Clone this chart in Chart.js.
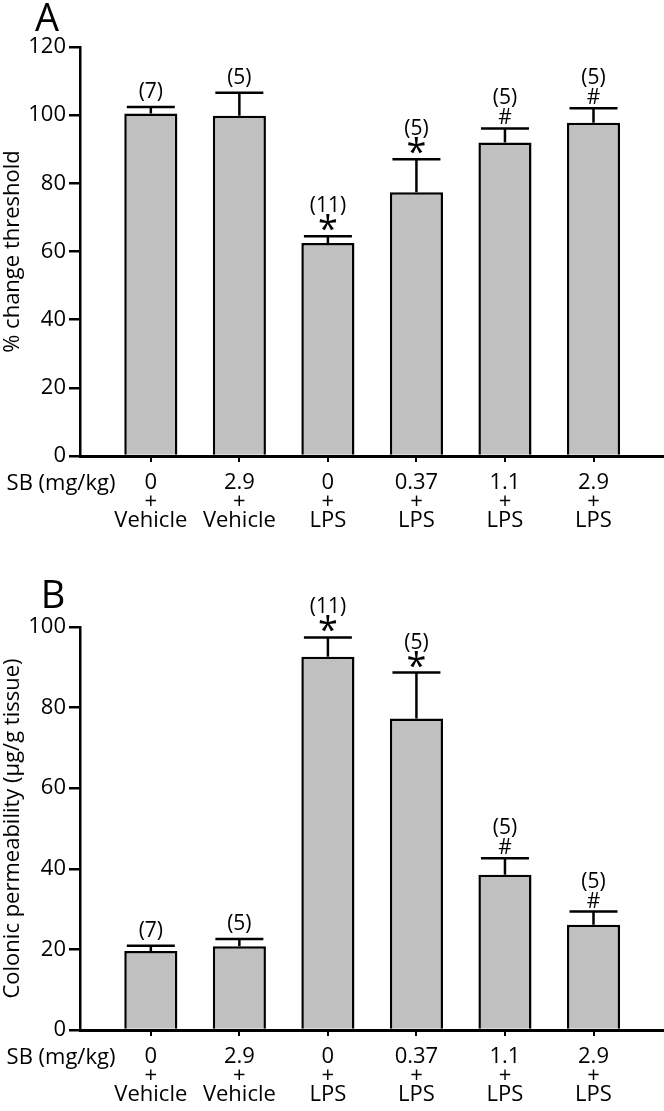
<!DOCTYPE html>
<html>
<head>
<meta charset="utf-8">
<script src="https://cdn.jsdelivr.net/npm/chart.js@4"></script>
<style>
body { margin: 0; background: #fff; }
canvas { display: block; }
</style>
</head>
<body>
<canvas id="chartA" width="664" height="540"></canvas>
<canvas id="chartB" width="664" height="571"></canvas>
<script>
// groups: SB dose + treatment
var categories = [['0', '+', 'Vehicle'], ['2.9', '+', 'Vehicle'], ['0', '+', 'LPS'],
	['0.37', '+', 'LPS'], ['1.1', '+', 'LPS'], ['2.9', '+', 'LPS']];
var groupN = ['(7)', '(5)', '(11)', '(5)', '(5)', '(5)'];

// panel A
var thresholdMeans = [100.5, 99.8, 62.5, 77.4, 92.0, 97.8];
var thresholdSem = [1.9, 6.8, 2.0, 9.7, 4.1, 4.2];
var thresholdMarks = ['', '', '*', '*', '#', '#'];
var thresholdTicks = [0, 20, 40, 60, 80, 100, 120];

// panel B
var permeabilityMeans = [19.6, 20.8, 92.6, 77.3, 38.5, 26.1];
var permeabilitySem = [1.3, 1.8, 4.8, 11.4, 4.1, 3.3];
var permeabilityMarks = ['', '', '*', '*', '#', '#'];
var permeabilityTicks = [0, 20, 40, 60, 80, 100];

var FONT = '"Open Sans"';

function makeChart(id, letter, letterPos, yTitle, means, sem, marks, yTicks, padTop, xHeight) {
	var annotate = {
		id: 'annotate_' + id,
		afterDatasetsDraw: function(chart) {
			var ctx = chart.ctx;
			var ys = chart.scales.y;
			var meta = chart.getDatasetMeta(0);
			ctx.save();
			ctx.strokeStyle = '#000';
			ctx.fillStyle = '#000';
			ctx.lineWidth = 2.5;
			ctx.textAlign = 'center';
			ctx.textBaseline = 'alphabetic';
			means.forEach(function(m, i) {
				var bx = meta.data[i].x;
				var top = ys.getPixelForValue(m);
				var cap = ys.getPixelForValue(m + sem[i]);
				ctx.beginPath();
				ctx.moveTo(bx, top);
				ctx.lineTo(bx, cap);
				ctx.moveTo(bx - 24, cap);
				ctx.lineTo(bx + 24, cap);
				ctx.stroke();
				var nBase = cap - 9;
				if (marks[i] === '*') {
					ctx.font = '36px ' + FONT;
					ctx.fillText('*', bx, cap + 5);
					nBase = cap - 24;
				} else if (marks[i] === '#') {
					ctx.font = '21px ' + FONT;
					ctx.fillText('#', bx, cap - 4);
					nBase = cap - 24;
				}
				ctx.font = '21px ' + FONT;
				ctx.fillText(groupN[i], bx, nBase);
			});
			ctx.restore();
		},
		afterDraw: function(chart) {
			var ctx = chart.ctx;
			ctx.save();
			ctx.fillStyle = '#000';
			ctx.textAlign = 'center';
			ctx.textBaseline = 'alphabetic';
			ctx.font = '38px ' + FONT;
			ctx.fillText(letter, letterPos[0], chart.chartArea.top - letterPos[1]);
			ctx.font = '22px ' + FONT;
			ctx.textBaseline = 'middle';
			ctx.fillText('SB (mg/kg)', 61, chart.chartArea.bottom + 28);
			ctx.restore();
		}
	};

	return new Chart(document.getElementById(id), {
		type: 'bar',
		data: {
			datasets: [{
				data: means.map(function(v, i) { return {x: i, y: v}; }),
				backgroundColor: '#c0c0c0',
				borderColor: '#000',
				borderWidth: 2.5,
				categoryPercentage: 1,
				barPercentage: 0.6
			}]
		},
		options: {
			responsive: false,
			animation: false,
			layout: {padding: {top: padTop, right: 1, bottom: 0, left: 0}},
			plugins: {legend: {display: false}, tooltip: {enabled: false}},
			scales: {
				x: {
					type: 'linear',
					min: -0.8,
					max: 5.785,
					offset: false,
					afterBuildTicks: function(s) { s.ticks = categories.map(function(c, i) { return {value: i}; }); },
					afterFit: function(s) { s.height = xHeight; },
					border: {display: true, color: '#000', width: 3},
					grid: {drawOnChartArea: false, offset: false, tickLength: 6, tickColor: '#000', lineWidth: 2},
					ticks: {
						color: '#000',
						font: {family: FONT, size: 22, lineHeight: 0.87},
						padding: 11,
						maxRotation: 0,
						autoSkip: false,
						callback: function(v) { return categories[v]; }
					}
				},
				y: {
					min: 0,
					max: yTicks[yTicks.length - 1],
					afterBuildTicks: function(s) { s.ticks = yTicks.map(function(v) { return {value: v}; }); },
					afterFit: function(s) { s.width = 80; },
					border: {display: true, color: '#000', width: 2.5},
					grid: {drawOnChartArea: false, tickLength: 11, tickColor: '#000', lineWidth: 2.5},
					ticks: {color: '#000', font: {family: FONT, size: 22}, padding: 3},
					title: {display: true, text: yTitle, color: '#000', font: {family: FONT, size: 22}, padding: 0}
				}
			}
		},
		plugins: [annotate]
	});
}

makeChart('chartA', 'A', [47, 16], '% change threshold', thresholdMeans, thresholdSem, thresholdMarks, thresholdTicks, 47, 84);
makeChart('chartB', 'B', [53, 19], 'Colonic permeability (\u00b5g/g tissue)', permeabilityMeans, permeabilitySem, permeabilityMarks, permeabilityTicks, 87, 81);
</script>
</body>
</html>
